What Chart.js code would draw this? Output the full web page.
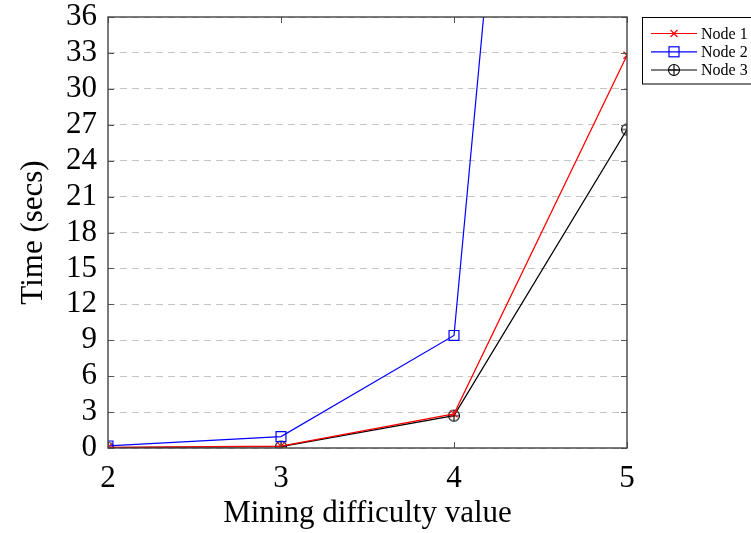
<!DOCTYPE html>
<html>
<head>
<meta charset="utf-8">
<script src="https://cdn.jsdelivr.net/npm/chart.js@4/dist/chart.umd.min.js"></script>
<style>
html,body{margin:0;padding:0;background:#fff;}
#wrap{width:751px;height:533px;position:relative;}
</style>
</head>
<body>
<div id="wrap"><canvas id="c" width="751" height="533"></canvas></div>
<script>
const difficulty = [2, 3, 4, 5];
const node1 = [0.05, 0.15, 2.85, 32.8];
const node2 = [0.17, 0.95, 9.4, 165];
const node3 = [0.03, 0.12, 2.7, 26.6];
const seriesNames = ['Node 1', 'Node 2', 'Node 3'];
const yTicks = [0, 3, 6, 9, 12, 15, 18, 21, 24, 27, 30, 33, 36];
const xTicks = [2, 3, 4, 5];

const FONT = '"Liberation Serif", "Times New Roman", serif';

function oplusImage(color) {
  const cv = document.createElement('canvas');
  cv.width = 14; cv.height = 14;
  const g = cv.getContext('2d');
  g.strokeStyle = color; g.lineWidth = 1.1;
  g.beginPath(); g.arc(7, 7, 5.5, 0, Math.PI * 2); g.stroke();
  g.beginPath(); g.moveTo(1.5, 7); g.lineTo(12.5, 7); g.moveTo(7, 1.5); g.lineTo(7, 12.5); g.stroke();
  return cv;
}
const oplus = oplusImage('#000');

function pts(vals) { return difficulty.map((x, i) => ({x: x, y: vals[i]})); }

const framePlugin = {
  id: 'frame',
  afterDraw(chart) {
    const {ctx, chartArea: a, scales} = chart;
    ctx.save();
    ctx.strokeStyle = '#555';
    ctx.lineWidth = 1;
    xTicks.forEach(v => {
      const x = Math.round(scales.x.getPixelForValue(v)) + 0.5;
      ctx.beginPath();
      ctx.moveTo(x, a.bottom); ctx.lineTo(x, a.bottom - 6);
      ctx.moveTo(x, a.top); ctx.lineTo(x, a.top + 6);
      ctx.stroke();
    });
    yTicks.forEach(v => {
      const y = Math.round(scales.y.getPixelForValue(v)) + 0.5;
      ctx.beginPath();
      ctx.moveTo(a.left, y); ctx.lineTo(a.left + 6, y);
      ctx.moveTo(a.right, y); ctx.lineTo(a.right - 6, y);
      ctx.stroke();
    });
    ctx.lineWidth = 1.4;
    ctx.strokeStyle = '#444';
    ctx.strokeRect(a.left, a.top, a.right - a.left, a.bottom - a.top);

    // legend
    const lx = 642.5, ly = 17.5, lw = 120, lh = 66.5;
    ctx.fillStyle = '#fff';
    ctx.fillRect(lx, ly, lw, lh);
    ctx.strokeStyle = '#000';
    ctx.lineWidth = 1;
    ctx.strokeRect(lx, ly, lw, lh);
    const rows = [33.5, 51.8, 70];
    chart.data.datasets.forEach((ds, i) => {
      const y = rows[i];
      ctx.strokeStyle = ds.borderColor;
      ctx.lineWidth = 1.2;
      ctx.beginPath(); ctx.moveTo(651, y); ctx.lineTo(697, y); ctx.stroke();
      const mx = 674;
      if (i === 0) {
        ctx.beginPath();
        ctx.moveTo(mx - 3.5, y - 3.5); ctx.lineTo(mx + 3.5, y + 3.5);
        ctx.moveTo(mx - 3.5, y + 3.5); ctx.lineTo(mx + 3.5, y - 3.5);
        ctx.stroke();
      } else if (i === 1) {
        ctx.strokeRect(mx - 5, y - 5, 10, 10);
      } else {
        ctx.drawImage(oplus, mx - 7, y - 7);
      }
      ctx.fillStyle = '#000';
      ctx.font = '16px ' + FONT;
      ctx.textBaseline = 'middle';
      ctx.textAlign = 'left';
      ctx.fillText(ds.label, 701, y + 1);
    });
    ctx.restore();
  }
};

new Chart(document.getElementById('c'), {
  type: 'line',
  data: {
    datasets: [
      {label: seriesNames[0], data: pts(node1), borderColor: '#ff0000', backgroundColor: 'transparent',
       borderWidth: 1.2, pointStyle: 'crossRot', pointRadius: 5, pointBorderWidth: 1.2, pointBorderColor: '#ff0000', tension: 0},
      {label: seriesNames[1], data: pts(node2), borderColor: '#0000ff', backgroundColor: 'transparent',
       borderWidth: 1.2, pointStyle: 'rect', pointRadius: 7, pointBorderWidth: 1.2, pointBorderColor: '#0000ff', tension: 0},
      {label: seriesNames[2], data: pts(node3), borderColor: '#000000', backgroundColor: 'transparent',
       borderWidth: 1.2, pointStyle: oplus, pointRadius: 6, tension: 0}
    ]
  },
  options: {
    responsive: false,
    animation: false,
    events: [],
    layout: {padding: {top: 17, right: 124, left: 0, bottom: 0}},
    plugins: {legend: {display: false}, tooltip: {enabled: false}},
    scales: {
      x: {
        type: 'linear', min: 2, max: 5,
        afterBuildTicks(s) { s.ticks = xTicks.map(v => ({value: v})); },
        afterFit(s) { s.height = 85; s.paddingLeft = 0; s.paddingRight = 0; },
        grid: {display: false, drawTicks: false},
        border: {display: false},
        ticks: {padding: 12, autoSkip: false, maxRotation: 0, color: '#000', font: {family: FONT, size: 31}},
        title: {display: true, text: 'Mining difficulty value', color: '#000',
                font: {family: FONT, size: 31}, padding: {top: 0, bottom: 1}}
      },
      y: {
        type: 'linear', min: 0, max: 36,
        afterBuildTicks(s) { s.ticks = yTicks.map(v => ({value: v})); },
        afterFit(s) { s.width = 108; s.paddingTop = 0; s.paddingBottom = 0; },
        grid: {color: '#c4c4c4', lineWidth: 1, drawTicks: false},
        border: {display: false, dash: [7, 5]},
        ticks: {padding: 11, autoSkip: false, color: '#000', font: {family: FONT, size: 31, lineHeight: 1.1}},
        title: {display: true, text: 'Time (secs)', color: '#000',
                font: {family: FONT, size: 31}, padding: {top: 15, bottom: 0}}
      }
    }
  },
  plugins: [framePlugin]
});
</script>
</body>
</html>
